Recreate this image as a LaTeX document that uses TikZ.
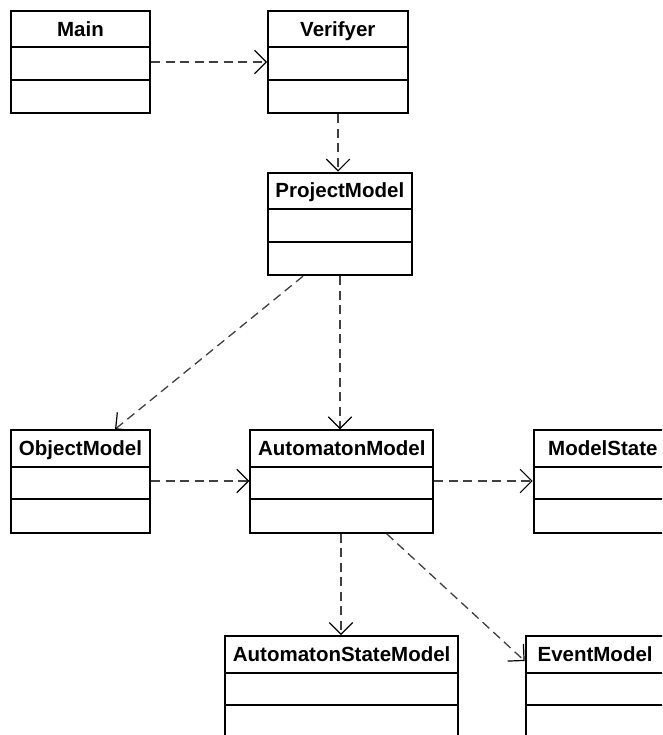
\documentclass[tikz,border=0pt]{standalone}
\usepackage{fontspec}
\setmainfont{Liberation Sans}
\usetikzlibrary{arrows.meta,calc}

% one UML class box: name, top-left x, top-left y, width, title
\newcommand{\umlbox}[5]{%
  \node[classbox, minimum width=#4pt, anchor=north west] (#1) at (#2,#3) {};
  \draw[classline] ([yshift=-37.5pt]#1.north west) -- ([yshift=-37.5pt]#1.north east);
  \draw[classline] ([yshift=-70pt]#1.north west) -- ([yshift=-70pt]#1.north east);
  \coordinate (#1-mid) at ([yshift=-53.75pt]#1.north);
  \node[classtitle] (#1-title) at ([yshift=-26.1pt]#1.north) {#5};
}

\tikzset{
  classbox/.style={draw=black, line width=2pt, minimum height=102.5pt, inner sep=0pt, fill=white},
  classline/.style={draw=black, line width=2pt},
  classtitle/.style={anchor=base, inner sep=0pt, font=\fontsize{20.5}{24}\selectfont\bfseries},
  dep/.style={draw=black!75, line width=1.3pt, dash pattern=on 9pt off 5.5pt,
    -{Straight Barb[length=11.7pt, width=23.4pt, line width=1.2pt, black]}}
}

\begin{document}
\begin{tikzpicture}[x=1pt, y=-1pt]
  \clip (0,0) rectangle (662,735);
  \fill[white] (0,0) rectangle (662,735);

  \umlbox{main}{10}{10}{139}{Main}
  \umlbox{verifyer}{267}{10}{139.7}{Verifyer}
  \umlbox{project}{266.7}{171.7}{144.3}{ProjectModel}
  \umlbox{object}{10}{429.3}{139}{ObjectModel}
  \umlbox{automaton}{249.3}{429.3}{183}{AutomatonModel}
  \umlbox{mstate}{532.7}{429.3}{138.3}{ModelState}
  \umlbox{astate}{224}{635}{233.3}{AutomatonStateModel}
  \umlbox{event}{524.7}{635}{138.8}{EventModel}

  % dependencies
  \draw[dep] (main.east |- 0,62) -- (verifyer.west |- 0,62);
  \draw[dep] (338,0 |- verifyer.south) -- (338,0 |- project.north);
  \draw[dep] ($(project.south west)+(36.3,0)$) -- ($(object.north west)+(105,0)$);
  \draw[dep] (340,0 |- project.south) -- (340,0 |- automaton.north);
  \draw[dep] (object.east |- 0,481) -- (automaton.west |- 0,481);
  \draw[dep] (automaton.east |- 0,481) -- (mstate.west |- 0,481);
  \draw[dep] (341,0 |- automaton.south) -- (341,0 |- astate.north);
  \draw[dep] ($(automaton.south west)+(137.4,0)$) -- (event.west |- 0,661);
\end{tikzpicture}
\end{document}
